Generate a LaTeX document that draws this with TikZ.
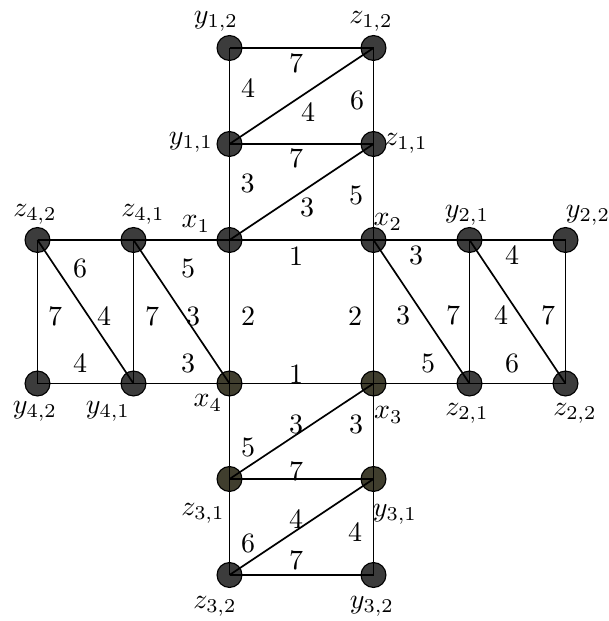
\documentclass[tikz,border=0pt]{standalone}
\definecolor{vfill}{RGB}{60,60,60}
\definecolor{vfillb}{RGB}{64,62,46}
\begin{document}
\begin{tikzpicture}[x=0.3571pt,y=-0.3571pt,
  vert/.style={circle,draw=black,fill=vfill,minimum size=8.9pt,inner sep=0pt,line width=0.4pt},
  vertb/.style={vert,fill=vfillb},
  edge/.style={line width=0.6pt},
  wl/.style={inner sep=0pt},
  nl/.style={inner sep=0pt}]
\useasboundingbox (0,0) rectangle (608,621);
% vertices
\node[vert] (y12) at (229.5,48) {};
\node[vert] (z12) at (373.5,48) {};
\node[vert] (y11) at (229.5,144) {};
\node[vert] (z11) at (373.5,144) {};
\node[vert] (z42) at (37.5,240) {};
\node[vert] (z41) at (133.5,240) {};
\node[vert] (x1) at (229.5,240) {};
\node[vert] (x2) at (373.5,240) {};
\node[vert] (y21) at (469.5,240) {};
\node[vert] (y22) at (565.5,240) {};
\node[vert] (y42) at (37.5,383.5) {};
\node[vert] (y41) at (133.5,383.5) {};
\node[vertb] (x4) at (229.5,383.5) {};
\node[vertb] (x3) at (373.5,383.5) {};
\node[vert] (z21) at (469.5,383.5) {};
\node[vert] (z22) at (565.5,383.5) {};
\node[vertb] (z31) at (229.5,479) {};
\node[vertb] (y31) at (373.5,479) {};
\node[vert] (z32) at (229.5,575) {};
\node[vert] (y32) at (373.5,575) {};
% edges (drawn over the vertices, centre to centre)
\draw[edge] (x1.center) -- (x2.center);
\draw[edge] (x4.center) -- (x3.center);
\draw[edge] (x1.center) -- (x4.center);
\draw[edge] (x2.center) -- (x3.center);
% top block
\draw[edge] (x1.center) -- (y11.center);
\draw[edge] (y11.center) -- (z11.center);
\draw[edge] (z11.center) -- (x2.center);
\draw[edge] (x1.center) -- (z11.center);
\draw[edge] (y11.center) -- (y12.center);
\draw[edge] (y12.center) -- (z12.center);
\draw[edge] (z12.center) -- (z11.center);
\draw[edge] (y11.center) -- (z12.center);
% left block
\draw[edge] (x4.center) -- (y41.center);
\draw[edge] (y41.center) -- (z41.center);
\draw[edge] (z41.center) -- (x1.center);
\draw[edge] (x4.center) -- (z41.center);
\draw[edge] (y41.center) -- (y42.center);
\draw[edge] (y42.center) -- (z42.center);
\draw[edge] (z42.center) -- (z41.center);
\draw[edge] (y41.center) -- (z42.center);
% right block
\draw[edge] (x2.center) -- (y21.center);
\draw[edge] (y21.center) -- (z21.center);
\draw[edge] (z21.center) -- (x3.center);
\draw[edge] (x2.center) -- (z21.center);
\draw[edge] (y21.center) -- (y22.center);
\draw[edge] (y22.center) -- (z22.center);
\draw[edge] (z22.center) -- (z21.center);
\draw[edge] (y21.center) -- (z22.center);
% bottom block
\draw[edge] (x3.center) -- (y31.center);
\draw[edge] (y31.center) -- (z31.center);
\draw[edge] (z31.center) -- (x4.center);
\draw[edge] (x3.center) -- (z31.center);
\draw[edge] (y31.center) -- (y32.center);
\draw[edge] (y32.center) -- (z32.center);
\draw[edge] (z32.center) -- (z31.center);
\draw[edge] (y31.center) -- (z32.center);
% weights
\node[wl] (w01) at (296,256) {1};
\node[wl] (w02) at (296,374) {1};
\node[wl] (w03) at (248,316) {2};
\node[wl] (w04) at (355,316) {2};
\node[wl] (w05) at (296,63) {7};
\node[wl] (w06) at (248,88) {4};
\node[wl] (w07) at (308,112) {4};
\node[wl] (w08) at (357,100) {6};
\node[wl] (w09) at (296,158) {7};
\node[wl] (w10) at (247.5,183) {3};
\node[wl] (w11) at (307,207) {3};
\node[wl] (w12) at (356,195) {5};
\node[wl] (w13) at (80,268) {6};
\node[wl] (w14) at (188,268) {5};
\node[wl] (w15) at (55,316) {7};
\node[wl] (w16) at (104,316) {4};
\node[wl] (w17) at (152,316) {7};
\node[wl] (w18) at (193,316) {3};
\node[wl] (w19) at (80,363) {4};
\node[wl] (w20) at (188,363) {3};
\node[wl] (w21) at (416,255) {3};
\node[wl] (w22) at (512,255) {4};
\node[wl] (w23) at (403,315) {3};
\node[wl] (w24) at (453,315) {7};
\node[wl] (w25) at (501,315) {4};
\node[wl] (w26) at (548,315) {7};
\node[wl] (w27) at (428,363) {5};
\node[wl] (w28) at (512,363) {6};
\node[wl] (w29) at (296,424) {3};
\node[wl] (w30) at (356,424) {3};
\node[wl] (w31) at (248,447) {5};
\node[wl] (w32) at (296,471) {7};
\node[wl] (w33) at (296,519) {4};
\node[wl] (w34) at (355,532) {4};
\node[wl] (w35) at (248,543) {6};
\node[wl] (w36) at (296,560) {7};
% vertex names
\node[nl] (ly12) at (216,21) {$y_{1,2}$};
\node[nl] (lz12) at (371,21) {$z_{1,2}$};
\node[nl] (ly11) at (191,142) {$y_{1,1}$};
\node[nl] (lz11) at (406,143) {$z_{1,1}$};
\node[nl] (lz42) at (35,214) {$z_{4,2}$};
\node[nl] (lz41) at (143,214) {$z_{4,1}$};
\node[nl] (lx1) at (196,224) {$x_1$};
\node[nl] (lx2) at (388,222) {$x_2$};
\node[nl] (ly21) at (467,215) {$y_{2,1}$};
\node[nl] (ly22) at (588,215) {$y_{2,2}$};
\node[nl] (ly42) at (35,411) {$y_{4,2}$};
\node[nl] (ly41) at (108,411) {$y_{4,1}$};
\node[nl] (lx4) at (208,403) {$x_4$};
\node[nl] (lx3) at (388.5,415) {$x_3$};
\node[nl] (lz21) at (467,413) {$z_{2,1}$};
\node[nl] (lz22) at (575,413) {$z_{2,2}$};
\node[nl] (lz31) at (203,513) {$z_{3,1}$};
\node[nl] (ly31) at (395,514) {$y_{3,1}$};
\node[nl] (lz32) at (215,606) {$z_{3,2}$};
\node[nl] (ly32) at (372,606) {$y_{3,2}$};
\end{tikzpicture}
\end{document}
